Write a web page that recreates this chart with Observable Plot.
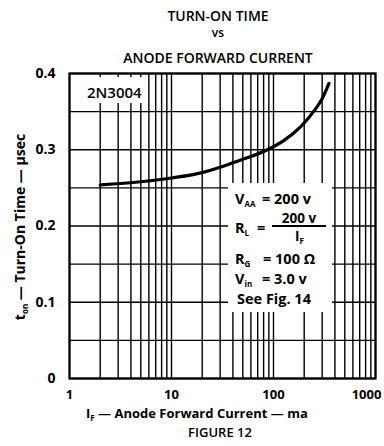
<!DOCTYPE html>
<html><head><meta charset="utf-8">
<script src="https://cdn.jsdelivr.net/npm/d3@7"></script>
<script src="https://cdn.jsdelivr.net/npm/@observablehq/plot@0.6"></script>
<style>
body{margin:0;background:#fff;}
#wrap{width:384px;height:446px;}
</style></head><body><div id="wrap"></div>
<script>
// Data
const current = [2, 5, 10, 20, 30, 40, 60, 87, 126, 184, 250, 300, 350];
const tOn = [0.254, 0.258, 0.263, 0.270, 0.277, 0.283, 0.291, 0.300, 0.312, 0.330, 0.351, 0.367, 0.387];
const xGrid = [1,2,3,4,5,6,7,8,9,10,20,30,40,50,60,70,80,90,100,200,300,400,500,600,700,800,900,1000];
const yGrid = [0,0.05,0.1,0.15,0.2,0.25,0.3,0.35,0.4];
const xTicks = [1,10,100];
const xTickLast = [1000];
const yTicks = [0,0.1,0.2,0.3,0.4];
const titleLines = ["TURN-ON TIME","vs","ANODE FORWARD CURRENT"];
const deviceLabel = "2N3004";
const caption = "FIGURE 12";

const FONT = "'Open Sans', Lato, sans-serif";
const data = current.map((c,i)=>({current:c, t:tOn[i]}));

const plot = Plot.plot({
  width:384, height:446, marginLeft:69, marginRight:9, marginTop:73, marginBottom:68,
  style:{fontFamily:FONT, fontSize:"14px", fontWeight:"bold", background:"white", color:"black"},
  x:{type:"log", domain:[1,1000]},
  y:{domain:[0,0.4]},
  marks:[
    Plot.ruleX(xGrid,{stroke:"black", strokeWidth:1.4}),
    Plot.ruleY(yGrid,{stroke:"black", strokeWidth:1.4}),
    Plot.frame({stroke:"black", strokeWidth:2.2}),
    Plot.line(data,{x:"current", y:"t", stroke:"black", strokeWidth:3.2, curve:"monotone-x"}),
    Plot.axisX(xTicks,{tickSize:0, tickPadding:11, label:null, tickFormat:d=>String(d), fontWeight:"bold", fontSize:13}),
    Plot.axisX(xTickLast,{tickSize:0, tickPadding:11, label:null, dx:-9, tickFormat:d=>String(d), fontWeight:"bold", fontSize:13}),
    Plot.axisY(yTicks,{tickSize:0, tickPadding:14, label:null, tickFormat:d=>d===0?"0":d.toFixed(1), fontWeight:"bold"})
  ]
});
document.getElementById("wrap").appendChild(plot);

const svg = d3.select(plot);
const g = svg.append("g").attr("font-family", FONT).attr("font-weight","bold")
  .attr("fill","black").attr("text-anchor","start");

// Titles
const titleY = [21, 37, 63];
titleLines.forEach((t,i)=>{
  g.append("text").attr("x",218).attr("y",titleY[i]).attr("text-anchor","middle")
   .attr("font-size", i===1?12:14).attr("font-weight",600).text(t);
});

// device label box
g.append("rect").attr("x",79).attr("y",77).attr("width",68).attr("height",26).attr("fill","white");
g.append("text").attr("x",87).attr("y",98).attr("font-size",15).attr("font-weight",600).text(deviceLabel);

// conditions box
g.append("rect").attr("x",228).attr("y",183).attr("width",104).attr("height",129).attr("fill","white");
function sym(x, y, main, sub, fs){
  const t = g.append("text").attr("x",x).attr("y",y).attr("font-size",fs||14.5);
  t.append("tspan").text(main);
  t.append("tspan").attr("font-size",8).attr("dy",3).text(sub);
  return t;
}
function txt(x, y, s, anchor, fs){
  return g.append("text").attr("x",x).attr("y",y).attr("font-size",fs||14.5).attr("text-anchor",anchor||"start").text(s);
}
sym(235, 204, "V", "AA"); txt(262, 204, "= 200 v");
sym(235, 233, "R", "L"); txt(257, 233, "=");
txt(299, 223, "200 v", "middle", 13.5);
g.append("rect").attr("x",272).attr("y",225).attr("width",54).attr("height",2).attr("fill","black");
sym(295, 241, "I", "F", 13.5);
sym(235, 264, "R", "G"); txt(263, 264, "= 100 Ω");
sym(235, 284, "V", "in"); txt(262, 284, "= 3.0 v");
txt(237, 304, "See Fig. 14");

// x axis label
const xl = g.append("text").attr("x",86).attr("y",418).attr("font-size",13);
xl.append("tspan").text("I");
xl.append("tspan").attr("font-size",8).attr("dy",3).text("F");
xl.append("tspan").attr("dy",-3).text(" — Anode Forward Current — ma");

// caption
g.append("text").attr("x",220).attr("y",437).attr("text-anchor","middle").attr("font-size",13).attr("font-weight",600).text(caption);

// y axis label
const yl = g.append("text").attr("transform","translate(25,227) rotate(-90)").attr("text-anchor","middle").attr("font-size",14);
yl.append("tspan").text("t");
yl.append("tspan").attr("font-size",8).attr("dy",3).text("on");
yl.append("tspan").attr("dy",-3).text(" — Turn-On Time — µsec");
</script></body></html>
